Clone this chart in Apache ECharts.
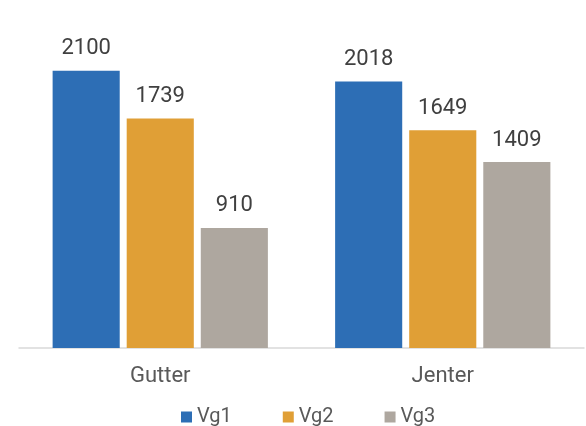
<!DOCTYPE html>
<html>
<head>
<meta charset="utf-8">
<script src="https://cdn.jsdelivr.net/npm/echarts@6/dist/echarts.min.js"></script>
<style>html,body{margin:0;padding:0;background:#fff}#c{width:586px;height:426px}</style>
</head>
<body>
<div id="c"></div>
<script>
const categories = ["Gutter", "Jenter"];
const seriesNames = ["Vg1", "Vg2", "Vg3"];
const vg1 = [2100, 2018];
const vg2 = [1739, 1649];
const vg3 = [910, 1409];
const colors = ["#2D6EB5", "#E09F36", "#AEA79F"];
const font = "Roboto";

const chart = echarts.init(document.getElementById('c'), null, {renderer: 'canvas'});
const data = [vg1, vg2, vg3];
chart.setOption({
  animation: false,
  textStyle: {fontFamily: font},
  grid: {left: 19, right: 2, top: 18, height: 330},
  legend: {
    left: 176, top: 402,
    itemWidth: 11, itemHeight: 11, itemGap: 51,
    icon: 'rect',
    textStyle: {fontSize: 20, color: '#595959', fontFamily: font},
    data: seriesNames
  },
  xAxis: {
    type: 'category', data: categories,
    axisLine: {lineStyle: {color: '#D9D9D9', width: 1.5}},
    axisTick: {show: false},
    axisLabel: {fontSize: 22, color: '#595959', margin: 17, fontFamily: font}
  },
  yAxis: {type: 'value', min: 0, max: 2500, show: false, splitLine: {show: false}},
  series: seriesNames.map((n, i) => ({
    name: n, type: 'bar', data: data[i],
    itemStyle: {color: colors[i]},
    barGap: '10.4%', barCategoryGap: '23.8%',
    label: {show: true, position: 'top', distance: 11, fontSize: 22, color: '#404040', fontFamily: font}
  }))
});
</script>
</body>
</html>
